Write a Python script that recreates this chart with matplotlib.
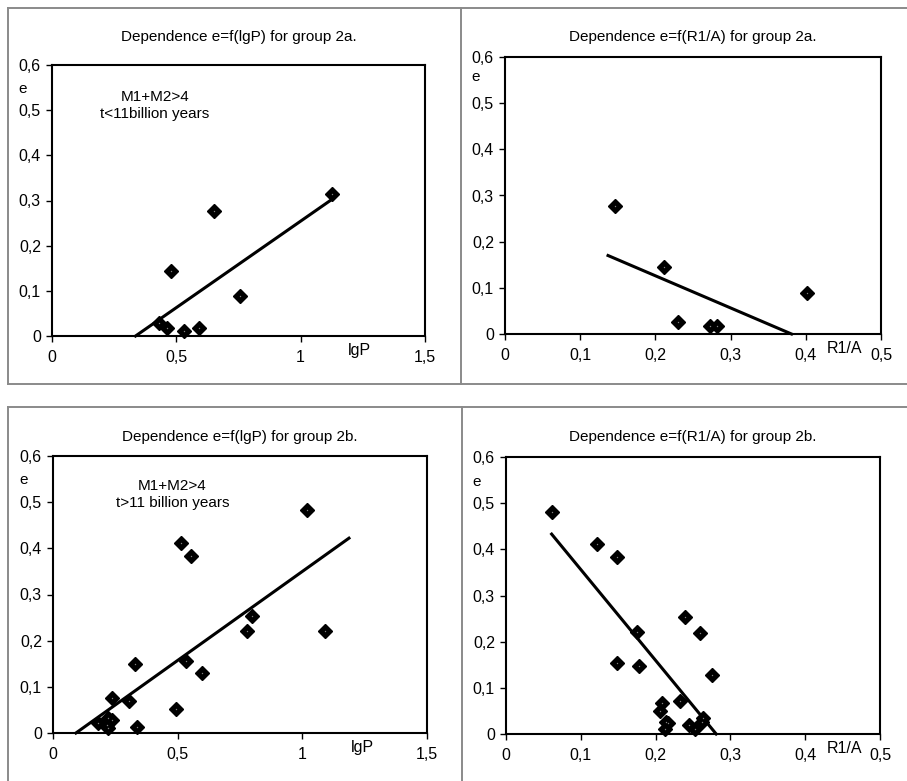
import numpy as np
import matplotlib
matplotlib.use("Agg")
import matplotlib.pyplot as plt
from matplotlib.lines import Line2D
from matplotlib.ticker import FuncFormatter, MultipleLocator

plt.rcParams['font.family'] = ['Liberation Sans', 'DejaVu Sans']
plt.rcParams['font.size'] = 10

### Data
# group 2a
lgp_2a = [0.431, 0.461, 0.477, 0.532, 0.591, 0.653, 0.757, 1.127]
e_lgp_2a = [0.028, 0.017, 0.145, 0.011, 0.018, 0.277, 0.089, 0.314]
r1a_2a = [0.146, 0.211, 0.230, 0.273, 0.282, 0.402]
e_r1a_2a = [0.278, 0.146, 0.027, 0.017, 0.017, 0.088]

# group 2b
lgp_2b = [0.182, 0.215, 0.222, 0.222, 0.235, 0.238, 0.306, 0.329, 0.338,
          0.495, 0.513, 0.532, 0.552, 0.599, 0.779, 0.799, 1.020, 1.091]
e_lgp_2b = [0.022, 0.017, 0.010, 0.032, 0.028, 0.075, 0.069, 0.149, 0.012,
            0.052, 0.412, 0.156, 0.384, 0.129, 0.222, 0.254, 0.483, 0.222]
r1a_2b = [0.061, 0.121, 0.149, 0.175, 0.149, 0.178, 0.239, 0.260, 0.276,
          0.209, 0.206, 0.214, 0.217, 0.213, 0.233, 0.244, 0.253, 0.262, 0.264]
e_r1a_2b = [0.481, 0.412, 0.383, 0.222, 0.154, 0.147, 0.254, 0.219, 0.128,
            0.068, 0.050, 0.027, 0.023, 0.010, 0.072, 0.019, 0.010, 0.027, 0.034]

# trend lines (end points, x and e)
trend_lgp_2a = ([0.336, 1.127], [0.0, 0.303])
trend_r1a_2a = ([0.137, 0.381], [0.170, 0.0])
trend_lgp_2b = ([0.092, 1.187], [0.0, 0.422])
trend_r1a_2b = ([0.061, 0.281], [0.433, 0.0])

W, H = 907, 781
fig = plt.figure(figsize=(W / 100, H / 100), dpi=100)

def px_axes(l, t, r, b):
    return fig.add_axes([l / W, 1 - b / H, (r - l) / W, (b - t) / H])

comma = FuncFormatter(lambda v, p: f"{v:g}".replace('.', ','))

panels = [
    dict(box=(52, 65, 425, 336), x=lgp_2a, y=e_lgp_2a, trend=trend_lgp_2a, xmax=1.5, xstep=0.5,
         title="Dependence e=f(lgP) for group 2a.", title_dy=28, xlab="lgP", xlab_x=1.238,
         e_y=0.547, note="M1+M2>4\nt<11billion years", note_xy=(0.414, 0.511)),
    dict(box=(505, 57, 881, 334), x=r1a_2a, y=e_r1a_2a, trend=trend_r1a_2a, xmax=0.5, xstep=0.1,
         title="Dependence e=f(R1/A) for group 2a.", title_dy=20, xlab="R1/A", xlab_x=0.452,
         e_y=0.557, note=None),
    dict(box=(53, 456, 427, 733), x=lgp_2b, y=e_lgp_2b, trend=trend_lgp_2b, xmax=1.5, xstep=0.5,
         title="Dependence e=f(lgP) for group 2b.", title_dy=19, xlab="lgP", xlab_x=1.241,
         e_y=0.549, note="M1+M2>4\nt>11 billion years", note_xy=(0.479, 0.516)),
    dict(box=(506, 457, 880, 734), x=r1a_2b, y=e_r1a_2b, trend=trend_r1a_2b, xmax=0.5, xstep=0.1,
         title="Dependence e=f(R1/A) for group 2b.", title_dy=20, xlab="R1/A", xlab_x=0.453,
         e_y=0.546, note=None),
]

for p in panels:
    l, t, r, b = p['box']
    ax = px_axes(l, t, r, b)
    ax.set_xlim(0, p['xmax'])
    ax.set_ylim(0, 0.6)
    ax.xaxis.set_major_locator(MultipleLocator(p['xstep']))
    ax.yaxis.set_major_locator(MultipleLocator(0.1))
    ax.xaxis.set_major_formatter(comma)
    ax.yaxis.set_major_formatter(comma)
    for s in ax.spines.values():
        s.set_linewidth(1.5)
    ax.tick_params(direction='out', length=4, width=1, labelsize=11.5)
    ax.tick_params(axis='x', pad=6)
    ax.tick_params(axis='y', pad=4)

    # trend line
    ax.plot(p['trend'][0], p['trend'][1], color='black', lw=2.2, zorder=2, clip_on=False)
    # points
    ax.plot(p['x'], p['y'], 'D', ms=6.8, mfc='black', mec='black', mew=1, zorder=3, clip_on=False)
    ax.plot(p['x'], p['y'], 'o', ms=1.0, color='#808080', mew=0, zorder=4, clip_on=False)

    # title
    ax.annotate(p['title'], xy=(0.5, 1), xycoords='axes fraction', xytext=(0, p['title_dy'] / 1.39),
                textcoords='offset points', ha='center', va='center', fontsize=11)
    # axis names
    ax.annotate("e", xy=(0, p['e_y']), xycoords=('axes fraction', 'data'), xytext=(-29 / 1.39, 0),
                textcoords='offset points', ha='center', va='center', fontsize=11)
    ax.annotate(p['xlab'], xy=(p['xlab_x'], 0), xycoords=('data', 'axes fraction'),
                xytext=(0, -15 / 1.39), textcoords='offset points', ha='center', va='center',
                fontsize=11.5)
    if p['note']:
        ax.text(p['note_xy'][0], p['note_xy'][1], p['note'], ha='center', va='center',
                fontsize=11, linespacing=1.3)

# grey frames round the charts
frame = dict(color='#8a8a8a', lw=1.4, transform=fig.transFigure)
def hline(y, x0, x1):
    fig.add_artist(Line2D([x0 / W, x1 / W], [1 - y / H, 1 - y / H], **frame))
def vline(x, y0, y1):
    fig.add_artist(Line2D([x / W, x / W], [1 - y0 / H, 1 - y1 / H], **frame))

hline(8, 8, W)
hline(384, 8, W)
hline(407, 8, W)
vline(8, 8, 384)
vline(461, 8, 384)
vline(8, 407, H)
vline(462, 407, H)

fig.savefig("out.png", dpi=100, facecolor='white')
